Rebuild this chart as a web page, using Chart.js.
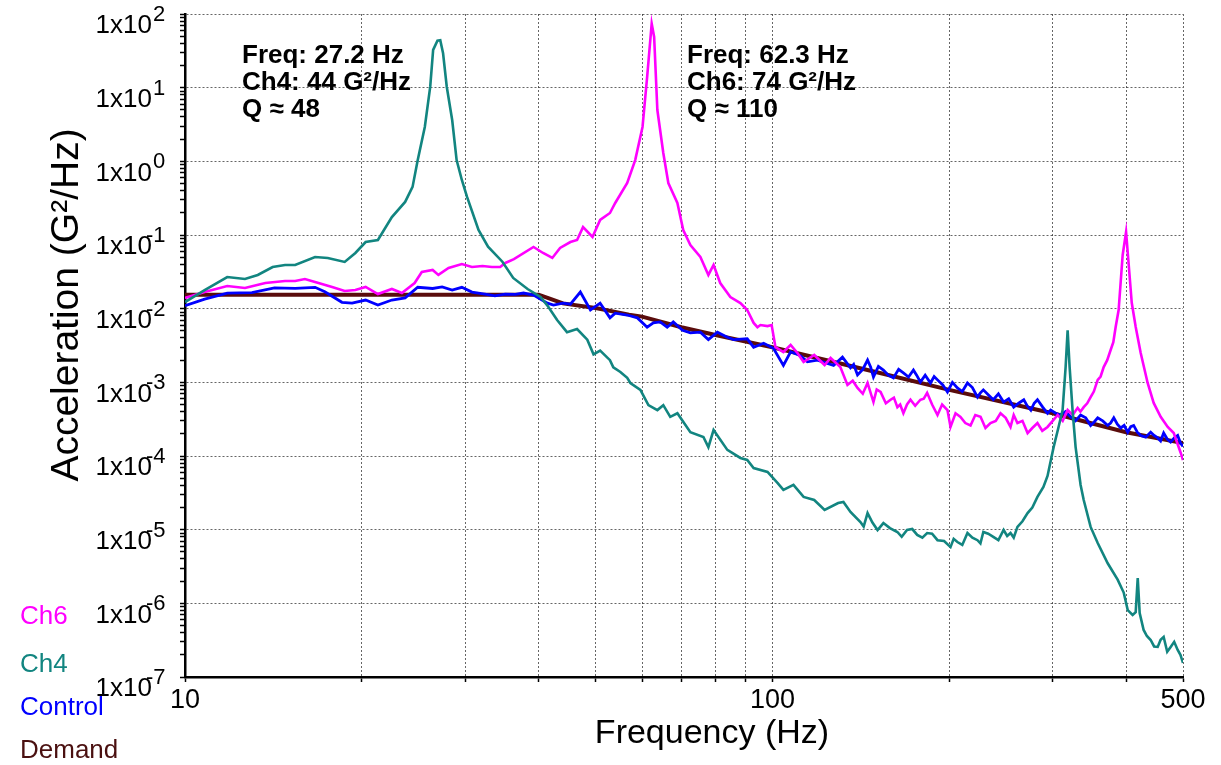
<!DOCTYPE html>
<html><head><meta charset="utf-8">
<script src="https://cdn.jsdelivr.net/npm/chart.js@4.4.1/dist/chart.umd.min.js"></script>
<style>html,body{margin:0;padding:0;background:#fff;}canvas{display:block;}</style>
</head><body>
<canvas id="c" width="1221" height="765"></canvas>
<script>
// ---- ticks / labels ----
const xGridTicks = [10,20,30,40,50,60,70,80,90,100,200,300,400,500];
const xLabelTicks = [10,100,500];
const yDecadeExponents = [2,1,0,-1,-2,-3,-4,-5,-6,-7];
const xTitle = 'Frequency (Hz)';
const yTitle = 'Acceleration (G²/Hz)';
const noteCh4 = ['Freq: 27.2 Hz', 'Ch4: 44 G²/Hz', 'Q ≈ 48'];
const noteCh6 = ['Freq: 62.3 Hz', 'Ch6: 74 G²/Hz', 'Q ≈ 110'];

// ---- series ----
const demandFreq = [10, 20, 30, 40, 42, 44, 50, 57, 60, 70, 80, 100, 150, 200, 300, 400, 500];
const demandPsd  = [0.0155, 0.0155, 0.0155, 0.0155, 0.0135, 0.0118, 0.0102, 0.0083, 0.0078, 0.0056, 0.0044, 0.0030, 0.00138, 0.00079, 0.00038, 0.00021, 0.00015];

const controlFreq = [10.0,10.8,11.8,13.0,14.2,15.4,16.65,17.3,18.5,19.25,20.3,21.3,22.5,23.7,24.9,26.4,27.4,28.5,29.6,30.8,32.4,33.7,35.1,36.5,37.7,39.2,41.4,42.4,44.0,45.3,47.1,49.0,50.9,52.9,54.0,56.6,58.9,61.2,62.7,64.4,66.2,67.8,70.3,72.5,75.4,77.8,80.6,83.8,85.9,90.6,92.9,96.6,100.4,104.4,107.4,111.6,114.7,119.3,127.1,131.6,
  135.8,137.5,139.6,142.5,145.2,147.0,148.6,151.5,154.5,157.5,160.7,164.0,167.1,170.5,173.8,176.0,178.6,182.0,185.8,188.5,191.0,195.0,198.6,202.5,206.5,210.5,214.8,219.0,223.4,226.0,228.6,233.0,237.7,242.5,247.5,252.5,257.5,262.5,267.9,271.5,275.4,279.0,282.6,288.5,294.0,297.6,303.5,309.6,315.5,321.9,328.0,334.7,341.5,348.1,353.0,357.9,365.0,372.2,376.5,381.2,386.5,391.7,397.0,402.6,407.5,412.1,418.0,423.6,432.0,440.5,446.5,452.8,458.0,463.5,470.0,476.4,483.0,489.7,495.0,500];
const controlPsd  = [0.0110,0.0135,0.0163,0.0165,0.0192,0.0188,0.0195,0.0170,0.0122,0.0119,0.0131,0.0112,0.0131,0.0140,0.0195,0.0188,0.0197,0.0179,0.0195,0.0168,0.0158,0.0149,0.0158,0.0156,0.0163,0.0153,0.0119,0.0112,0.0119,0.0115,0.0168,0.0096,0.0119,0.0075,0.0087,0.0082,0.0075,0.0056,0.0064,0.0066,0.0056,0.0066,0.0051,0.0047,0.0048,0.0038,0.0048,0.0041,0.0038,0.0039,0.0030,0.0034,0.0029,0.0017,0.0026,0.0023,0.0019,0.0020,0.0017,0.0022,
  0.00157,0.00175,0.00126,0.00150,0.00201,0.00160,0.00118,0.00165,0.00147,0.00125,0.00115,0.00150,0.00134,0.00118,0.00147,0.00125,0.00101,0.00125,0.00098,0.00120,0.00108,0.00092,0.00074,0.00100,0.00084,0.00075,0.00098,0.00085,0.00063,0.00072,0.00079,0.00068,0.00058,0.00070,0.00054,0.00060,0.00046,0.00052,0.00058,0.00048,0.00042,0.00052,0.00058,0.00046,0.00038,0.00042,0.00038,0.00036,0.00040,0.00034,0.00030,0.00036,0.00033,0.00026,0.00029,0.00033,0.00030,0.00026,0.00028,0.00033,0.00027,0.00024,0.00026,0.00021,0.00025,0.00026,0.00021,0.00019,0.00018,0.00021,0.00019,0.000176,0.000160,0.000205,0.000170,0.000155,0.000175,0.00019,0.000150,0.000135];

const ch4Freq = [10.0,10.8,11.8,12.65,13.3,14.1,14.8,15.4,16.65,17.5,18.7,19.5,20.3,21.3,22.5,23.7,24.4,24.9,25.6,26.15,26.45,26.9,27.2,27.5,27.9,28.5,29.0,29.6,30.2,31.6,32.8,34.7,36.2,38.3,40.3,41.4,43.0,44.7,46.5,48.4,49.6,50.9,52.9,53.6,55.1,56.6,57.3,59.6,61.5,63.7,65.2,67.0,68.9,72.5,76.3,77.8,79.4,83.8,88.2,90.6,92.9,98.1,102.0,104.4,108.6,113.0,117.8,122.7,129.4,132.1,
  135.8,141.2,143.0,145.2,148.0,151.0,154.5,158.5,163.2,166.0,169.5,173.0,176.4,180.0,183.4,187.0,191.0,196.0,201.0,203.5,206.5,210.5,214.8,219.0,223.4,226.0,228.6,233.0,237.7,242.5,247.5,251.0,254.3,257.5,261.3,266.5,271.9,277.0,282.6,289.3,294.0,301.1,307.0,311.9,315.6,318.1,320.6,324.3,328.2,334.7,338.8,348.1,357.9,372.2,387.0,396.3,402.6,410.4,415.4,418.7,421.9,428.5,434.0,440.5,446.5,452.8,458.0,463.5,470.0,476.4,483.0,489.7,495.0,500];
const ch4Psd  = [0.0123,0.0179,0.0269,0.0253,0.0287,0.0368,0.0392,0.0392,0.0503,0.0488,0.0431,0.0570,0.0803,0.0855,0.175,0.281,0.449,1.04,2.93,10.3,32.5,43.4,44,29.3,10.3,3.64,1.04,0.558,0.331,0.117,0.0693,0.0434,0.0261,0.0185,0.0144,0.0110,0.0070,0.0048,0.0053,0.0038,0.0024,0.0027,0.0020,0.0016,0.00138,0.00115,0.00098,0.00079,0.00049,0.00042,0.00049,0.00034,0.00038,0.00021,0.000181,0.000132,0.000225,0.000121,0.000094,0.0000883,0.0000687,0.0000607,0.0000431,0.0000346,0.0000405,0.0000278,0.0000253,0.0000185,0.0000230,0.0000238,
  0.0000174,0.0000127,0.0000110,0.0000168,0.0000125,0.0000099,0.0000123,0.0000105,0.0000093,0.0000080,0.0000099,0.0000102,0.0000085,0.0000078,0.0000090,0.0000088,0.0000072,0.0000070,0.0000058,0.0000075,0.0000068,0.0000062,0.0000090,0.0000078,0.0000072,0.0000065,0.0000093,0.0000088,0.0000080,0.0000072,0.0000099,0.0000082,0.0000090,0.0000078,0.0000109,0.0000130,0.0000168,0.0000200,0.0000278,0.000038,0.0000536,0.000132,0.000248,0.00042,0.00161,0.0051,0.00161,0.00042,0.000132,0.0000405,0.0000253,0.0000109,0.0000066,0.0000035,0.0000021,0.0000014,0.00000081,0.000000695,0.00000076,0.0000022,0.00000074,0.000000435,0.00000036,0.000000318,0.00000026,0.000000256,0.00000032,0.00000035,0.00000022,0.000000256,0.00000030,0.000000233,0.00000020,0.000000155];

const ch6Freq = [10.0,10.8,11.8,12.65,13.7,14.8,15.4,16.0,16.65,17.8,18.7,19.5,20.3,21.3,22.5,23.4,24.6,25.3,26.4,27.0,28.1,29.6,30.8,32.1,33.3,34.4,35.1,36.3,39.2,40.7,42.2,43.5,45.3,46.5,47.6,49.4,50.9,52.9,54.0,56.6,58.4,60.1,61.2,62.3,62.9,63.7,65.2,66.5,68.9,70.5,72.5,75.4,77.8,79.4,81.5,84.8,88.2,90.6,92.9,94.3,95.4,98.1,99.7,101.2,104.4,107.4,110.3,113.0,117.8,122.7,125.6,130.5,
  134.2,137.0,139.6,142.5,145.2,148.6,150.5,152.8,156.0,158.9,161.0,163.2,165.0,167.1,169.5,171.8,175.0,178.6,181.0,183.4,187.0,191.0,194.5,198.6,201.0,205.0,209.0,213.0,217.4,221.5,226.1,230.5,235.1,240.0,244.5,249.5,254.3,257.5,261.3,266.5,271.9,277.0,282.6,288.0,294.0,300.0,305.9,312.0,318.1,324.5,330.8,334.5,338.8,343.5,348.1,352.5,357.9,362.0,366.4,371.5,376.5,380.5,384.0,388.5,394.7,400,404.1,409,415.4,423.6,435.3,445.7,458.1,470.9,482.2,495.6,500];
const ch6Psd  = [0.0140,0.0168,0.0203,0.0191,0.0223,0.0238,0.0238,0.0253,0.0230,0.0197,0.0174,0.0179,0.0197,0.0158,0.0185,0.0163,0.0223,0.0315,0.0335,0.0287,0.0356,0.0404,0.0368,0.0380,0.0368,0.0368,0.0417,0.0470,0.0687,0.0570,0.0488,0.0667,0.0803,0.0855,0.128,0.094,0.160,0.199,0.272,0.508,1.04,2.93,14.0,74,48.7,4.97,1.30,0.508,0.272,0.117,0.0732,0.0503,0.0287,0.0392,0.0223,0.0144,0.0119,0.0096,0.0064,0.0056,0.0060,0.0058,0.0060,0.0030,0.00258,0.00321,0.00250,0.00189,0.00235,0.00172,0.00214,0.00161,
  0.00092,0.00105,0.00084,0.00070,0.00098,0.00054,0.00080,0.00074,0.00052,0.00058,0.00062,0.00046,0.00050,0.00038,0.00050,0.00058,0.00048,0.00058,0.00060,0.00072,0.00050,0.00036,0.00050,0.00042,0.000248,0.00038,0.00034,0.00028,0.00026,0.00036,0.00034,0.00024,0.00028,0.00030,0.00038,0.00033,0.000248,0.00036,0.00028,0.00030,0.000205,0.00024,0.00028,0.00022,0.000248,0.00030,0.00036,0.00030,0.00042,0.00036,0.00045,0.00040,0.00046,0.00052,0.00063,0.00075,0.00108,0.00120,0.00161,0.00200,0.00275,0.00350,0.00564,0.0096,0.0536,0.110,0.040,0.012,0.00564,0.00250,0.00098,0.000525,0.00034,0.000248,0.000205,0.000110,0.0000883];

const toPts = (f, v) => f.map((x, i) => ({x: x, y: v[i]}));

const FONT = '"Liberation Sans", Arial, Helvetica, sans-serif';
const isDecade = v => Math.abs(Math.log10(v) - Math.round(Math.log10(v))) < 1e-6;

const yTickValues = [];
for (let e = yDecadeExponents[yDecadeExponents.length - 1]; e < yDecadeExponents[0]; e++) {
  for (let m = 1; m <= 9; m++) yTickValues.push(m * Math.pow(10, e));
}
yTickValues.push(Math.pow(10, yDecadeExponents[0]));

const overlay = {
  id: 'overlay',
  afterDraw(chart) {
    const ctx = chart.ctx, ys = chart.scales.y;
    ctx.save();
    ctx.fillStyle = '#000';
    ctx.textBaseline = 'middle';
    yDecadeExponents.forEach(e => {
      const y = ys.getPixelForValue(Math.pow(10, e));
      ctx.font = '26px ' + FONT;
      ctx.textAlign = 'right';
      ctx.fillText('1x10', 152, y + 12);
      ctx.font = '22px ' + FONT;
      ctx.textAlign = 'left';
      ctx.fillText(String(e), e < 0 ? 146 : 153, y + 1);
    });
    ctx.textAlign = 'center';
    ctx.font = '34px ' + FONT;
    ctx.fillText(xTitle, 712, 734);
    ctx.save();
    ctx.translate(67, 305);
    ctx.rotate(-Math.PI / 2);
    ctx.font = '39px ' + FONT;
    ctx.fillText(yTitle, 0, 0);
    ctx.restore();
    ctx.textAlign = 'left';
    ctx.textBaseline = 'alphabetic';
    ctx.font = 'bold 26px ' + FONT;
    noteCh4.forEach((t, i) => ctx.fillText(t, 242, 63 + i * 27));
    noteCh6.forEach((t, i) => ctx.fillText(t, 687, 63 + i * 27));
    ctx.textBaseline = 'middle';
    ctx.font = '26px ' + FONT;
    const legendY = [617, 665, 708, 751];
    chart.data.datasets.forEach((ds, i) => {
      ctx.fillStyle = ds.legendColor || ds.borderColor;
      ctx.fillText(ds.label, 20, legendY[i]);
    });
    ctx.restore();
  }
};

new Chart(document.getElementById('c'), {
  type: 'line',
  data: {
    datasets: [
      {label: 'Ch6', data: toPts(ch6Freq, ch6Psd), borderColor: '#ff00ff', borderWidth: 2.6, order: 2},
      {label: 'Ch4', data: toPts(ch4Freq, ch4Psd), borderColor: '#128580', borderWidth: 2.6, order: 1},
      {label: 'Control', data: toPts(controlFreq, controlPsd), borderColor: '#0000ff', borderWidth: 2.8, order: 3},
      {label: 'Demand', data: toPts(demandFreq, demandPsd), borderColor: '#5a0c0c', legendColor: '#4a1010', borderWidth: 4, order: 4}
    ]
  },
  options: {
    responsive: false,
    animation: false,
    events: [],
    layout: {padding: {left: 0, right: 38, top: 14, bottom: 0}},
    elements: {point: {radius: 0}, line: {tension: 0, fill: false}},
    plugins: {legend: {display: false}, tooltip: {enabled: false}},
    scales: {
      x: {
        type: 'logarithmic', min: 10, max: 500, position: 'bottom',
        afterBuildTicks: s => { s.ticks = xGridTicks.map(v => ({value: v})); },
        afterFit: s => { s.height = 88; },
        ticks: {
          autoSkip: false, maxRotation: 0, padding: 2, color: '#000',
          font: {family: FONT, size: 27},
          callback: v => xLabelTicks.includes(v) ? String(v) : ''
        },
        grid: {color: 'rgba(0,0,0,0.6)', lineWidth: 1, tickLength: 5, tickColor: '#000', tickWidth: 1.5},
        border: {display: true, color: '#000', width: 2.5, dash: [2, 2]}
      },
      y: {
        type: 'logarithmic', min: 1e-7, max: 100, position: 'left',
        afterBuildTicks: s => { s.ticks = yTickValues.map(v => ({value: v})); },
        afterFit: s => { s.width = 185; },
        ticks: {display: false},
        grid: {
          color: c => isDecade(c.tick.value) ? 'rgba(0,0,0,0.6)' : 'rgba(0,0,0,0)',
          tickColor: '#000', tickLength: 5, lineWidth: 1, tickWidth: 1.5
        },
        border: {display: true, color: '#000', width: 2.5, dash: [2, 2]}
      }
    }
  },
  plugins: [overlay]
});
</script>
</body></html>
